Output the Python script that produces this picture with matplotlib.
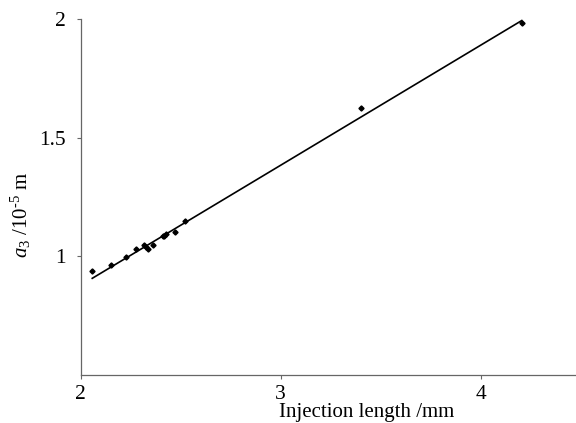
import numpy as np
import matplotlib
matplotlib.use('Agg')
import matplotlib.pyplot as plt

# injection length (mm) vs a3 (1e-5 m)
inj_length = [2.058, 2.150, 2.225, 2.277, 2.318, 2.325, 2.336, 2.363,
              2.413, 2.425, 2.418, 2.470, 2.523, 3.400, 4.205]
a3 = [0.940, 0.965, 0.996, 1.031, 1.048, 1.039, 1.031, 1.049,
      1.087, 1.093, 1.085, 1.101, 1.148, 1.624, 1.982]

# fitted trend line y = intercept + slope * x
slope = 0.506
intercept = -0.134

x_ticks = [2, 3, 4]
y_ticks = [1, 1.5, 2]

plt.rcParams['font.family'] = ['Liberation Serif', 'DejaVu Serif']
plt.rcParams['mathtext.fontset'] = 'custom'
plt.rcParams['mathtext.rm'] = 'Liberation Serif'
plt.rcParams['mathtext.it'] = 'Liberation Serif:italic'

fig = plt.figure(figsize=(5.76, 4.23), dpi=100)
ax = fig.add_axes([0.140, 0.1135, 0.86, 0.8415])

x = np.array(inj_length)
xl = np.array([x.min(), x.max()])
ax.plot(xl, intercept + slope * xl, color='black', lw=1.2)
ax.plot(inj_length, a3, 'D', color='black', markersize=2.6, linestyle='none')

ax.set_xlim(2, 4.476)
ax.set_ylim(0.5, 2)
ax.set_xticks(x_ticks)
ax.set_yticks(y_ticks)
ax.set_xticklabels(['2', '3', '4'])
ax.set_yticklabels(['1', '1.5', '2'])

for s in ['top', 'right']:
    ax.spines[s].set_visible(False)
for s in ['left', 'bottom']:
    ax.spines[s].set_color('#666666')
    ax.spines[s].set_linewidth(0.9)
ax.tick_params(axis='both', length=3, width=0.8, color='#666666', labelsize=15.5)
ax.tick_params(axis='x', pad=4)
ax.tick_params(axis='y', pad=8)

ax.set_xlabel('Injection length /mm', fontsize=15)
ax.xaxis.set_label_coords(0.578, -0.104)
ax.xaxis.label.set_va('center')
ax.set_ylabel(r'$a_3$ /10$^{\text{-}5}$ m', fontsize=15)
ax.yaxis.set_label_coords(-0.12, 0.45)
ax.yaxis.label.set_va('center')

fig.savefig('out.png', dpi=100)
